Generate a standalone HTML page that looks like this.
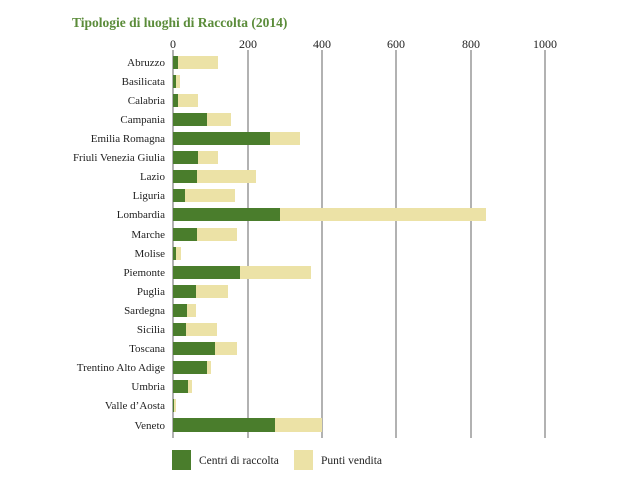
<!DOCTYPE html><html><head><style>body{margin:0;background:#fff}</style></head><body>
<svg width="625" height="477" xmlns="http://www.w3.org/2000/svg" font-family="Liberation Serif, serif">
<rect width="625" height="477" fill="#fff"/>
<text x="72" y="27" font-size="13.5" font-weight="bold" fill="#5b8c3a">Tipologie di luoghi di Raccolta (2014)</text>
<g stroke="#666" stroke-width="1">
<line x1="173" y1="50" x2="173" y2="438"/><line x1="248" y1="50" x2="248" y2="438"/><line x1="322" y1="50" x2="322" y2="438"/><line x1="396" y1="50" x2="396" y2="438"/><line x1="471" y1="50" x2="471" y2="438"/><line x1="545" y1="50" x2="545" y2="438"/>
</g>
<g font-size="12" fill="#222" text-anchor="middle">
<text x="173" y="48">0</text><text x="248" y="48">200</text><text x="322" y="48">400</text><text x="396" y="48">600</text><text x="471" y="48">800</text><text x="545" y="48">1000</text>
</g>
<g id="bars"></g>
<rect x="172" y="450" width="19" height="20" fill="#4a7d2c"/><text x="199" y="464" font-size="11.5" fill="#222">Centri di raccolta</text>
<rect x="294" y="450" width="19" height="20" fill="#ece2a6"/><text x="321" y="464" font-size="11.5" fill="#222">Punti vendita</text>
<g font-size="11" fill="#222" text-anchor="end">
<script>
</script>
</g>
<g>
<rect x="173" y="56" width="5" height="13" fill="#4a7d2c"/><rect x="178" y="56" width="40" height="13" fill="#ece2a6"/><text x="165" y="66" font-size="11" text-anchor="end" fill="#222">Abruzzo</text>
<rect x="173" y="75" width="3" height="13" fill="#4a7d2c"/><rect x="176" y="75" width="4" height="13" fill="#ece2a6"/><text x="165" y="85" font-size="11" text-anchor="end" fill="#222">Basilicata</text>
<rect x="173" y="94" width="5" height="13" fill="#4a7d2c"/><rect x="178" y="94" width="20" height="13" fill="#ece2a6"/><text x="165" y="104" font-size="11" text-anchor="end" fill="#222">Calabria</text>
<rect x="173" y="113" width="34" height="13" fill="#4a7d2c"/><rect x="207" y="113" width="24" height="13" fill="#ece2a6"/><text x="165" y="123" font-size="11" text-anchor="end" fill="#222">Campania</text>
<rect x="173" y="132" width="97" height="13" fill="#4a7d2c"/><rect x="270" y="132" width="30" height="13" fill="#ece2a6"/><text x="165" y="142" font-size="11" text-anchor="end" fill="#222">Emilia Romagna</text>
<rect x="173" y="151" width="25" height="13" fill="#4a7d2c"/><rect x="198" y="151" width="20" height="13" fill="#ece2a6"/><text x="165" y="161" font-size="11" text-anchor="end" fill="#222">Friuli Venezia Giulia</text>
<rect x="173" y="170" width="24" height="13" fill="#4a7d2c"/><rect x="197" y="170" width="59" height="13" fill="#ece2a6"/><text x="165" y="180" font-size="11" text-anchor="end" fill="#222">Lazio</text>
<rect x="173" y="189" width="12" height="13" fill="#4a7d2c"/><rect x="185" y="189" width="50" height="13" fill="#ece2a6"/><text x="165" y="199" font-size="11" text-anchor="end" fill="#222">Liguria</text>
<rect x="173" y="208" width="107" height="13" fill="#4a7d2c"/><rect x="280" y="208" width="206" height="13" fill="#ece2a6"/><text x="165" y="218" font-size="11" text-anchor="end" fill="#222">Lombardia</text>
<rect x="173" y="228" width="24" height="13" fill="#4a7d2c"/><rect x="197" y="228" width="40" height="13" fill="#ece2a6"/><text x="165" y="238" font-size="11" text-anchor="end" fill="#222">Marche</text>
<rect x="173" y="247" width="3" height="13" fill="#4a7d2c"/><rect x="176" y="247" width="5" height="13" fill="#ece2a6"/><text x="165" y="257" font-size="11" text-anchor="end" fill="#222">Molise</text>
<rect x="173" y="266" width="67" height="13" fill="#4a7d2c"/><rect x="240" y="266" width="71" height="13" fill="#ece2a6"/><text x="165" y="276" font-size="11" text-anchor="end" fill="#222">Piemonte</text>
<rect x="173" y="285" width="23" height="13" fill="#4a7d2c"/><rect x="196" y="285" width="32" height="13" fill="#ece2a6"/><text x="165" y="295" font-size="11" text-anchor="end" fill="#222">Puglia</text>
<rect x="173" y="304" width="14" height="13" fill="#4a7d2c"/><rect x="187" y="304" width="9" height="13" fill="#ece2a6"/><text x="165" y="314" font-size="11" text-anchor="end" fill="#222">Sardegna</text>
<rect x="173" y="323" width="13" height="13" fill="#4a7d2c"/><rect x="186" y="323" width="31" height="13" fill="#ece2a6"/><text x="165" y="333" font-size="11" text-anchor="end" fill="#222">Sicilia</text>
<rect x="173" y="342" width="42" height="13" fill="#4a7d2c"/><rect x="215" y="342" width="22" height="13" fill="#ece2a6"/><text x="165" y="352" font-size="11" text-anchor="end" fill="#222">Toscana</text>
<rect x="173" y="361" width="34" height="13" fill="#4a7d2c"/><rect x="207" y="361" width="4" height="13" fill="#ece2a6"/><text x="165" y="371" font-size="11" text-anchor="end" fill="#222">Trentino Alto Adige</text>
<rect x="173" y="380" width="15" height="13" fill="#4a7d2c"/><rect x="188" y="380" width="4" height="13" fill="#ece2a6"/><text x="165" y="390" font-size="11" text-anchor="end" fill="#222">Umbria</text>
<rect x="173" y="399" width="1" height="13" fill="#4a7d2c"/><rect x="174" y="399" width="2" height="13" fill="#ece2a6"/><text x="165" y="409" font-size="11" text-anchor="end" fill="#222">Valle d’Aosta</text>
<rect x="173" y="418" width="102" height="14" fill="#4a7d2c"/><rect x="275" y="418" width="47" height="14" fill="#ece2a6"/><text x="165" y="429" font-size="11" text-anchor="end" fill="#222">Veneto</text>
</g>
</svg>
</body></html>
